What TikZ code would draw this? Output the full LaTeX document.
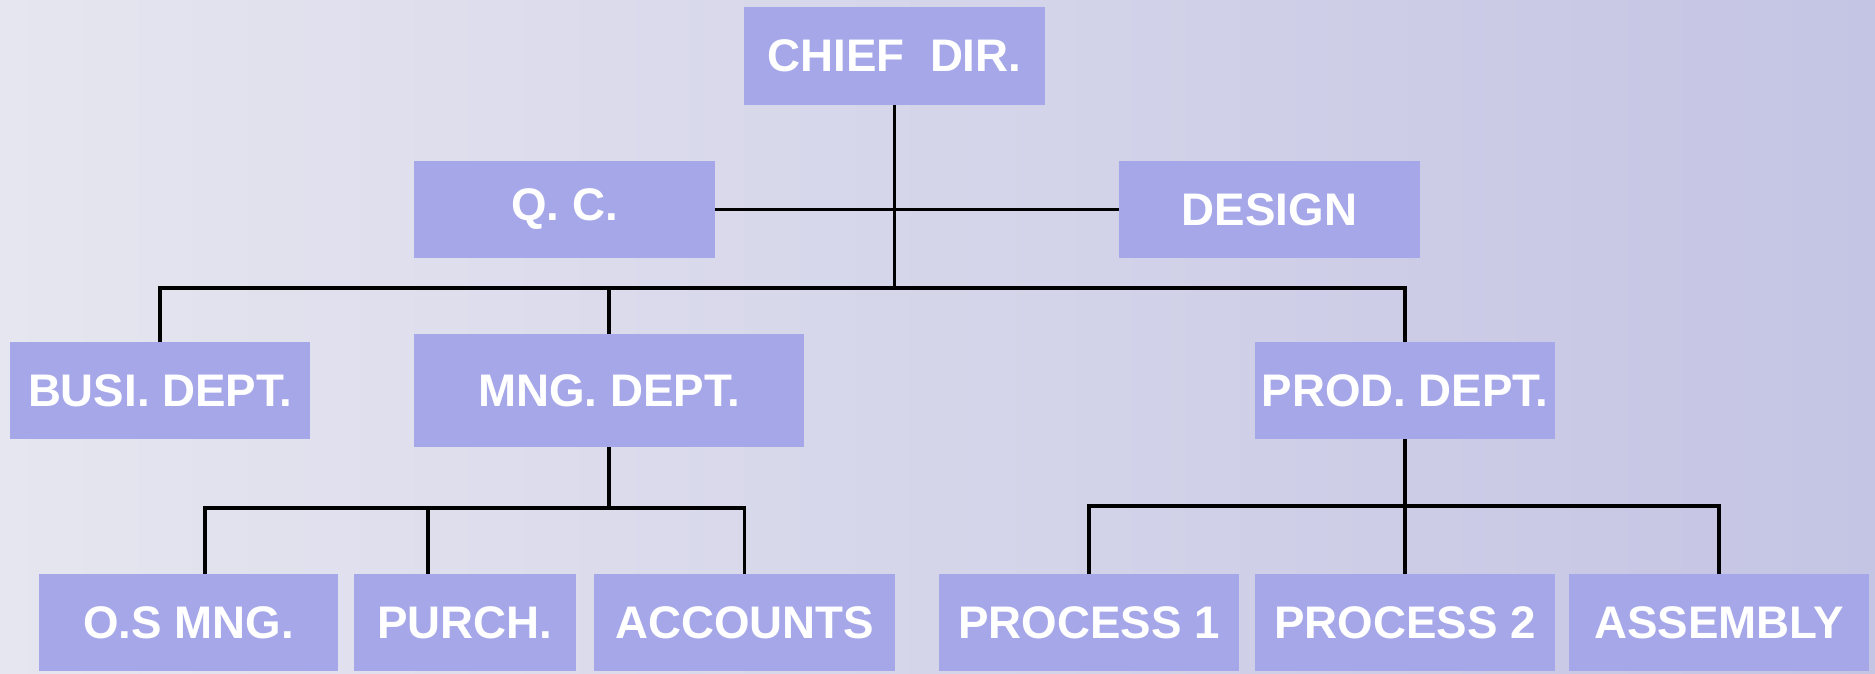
\documentclass[tikz,border=0pt]{standalone}
\usepackage{fontspec}
\setmainfont{Liberation Sans}
\usetikzlibrary{calc}
\definecolor{boxfill}{RGB}{165,167,232}
\definecolor{bgleft}{RGB}{230,230,240}
\definecolor{bgmid}{RGB}{206,206,230}
\definecolor{bgright}{RGB}{196,196,228}

\begin{document}
\begin{tikzpicture}
  [x=0.02cm,y=-0.02cm,
   every node/.style={rectangle,fill=boxfill,text=white,inner sep=0pt,
     minimum width=301*0.02cm,minimum height=97*0.02cm,
     font=\fontsize{26}{30}\selectfont\bfseries},
   link/.style={line width=2.1pt,black}]
  \useasboundingbox (0,0) rectangle (1875,673);
  \shade[left color=bgleft,middle color=bgmid,right color=bgright] (0,0) rectangle (1875,673);

  \node (chief) at (894.5,56)  [minimum height=98*0.02cm] {CHIEF\ \ DIR.};
  \node (qc)     at (564.5,209.5)  {Q. C.};
  \node (design) at (1269.5,209.5) {DESIGN};
  \node (busi)   at (160,390.5)    [minimum width=300*0.02cm] {BUSI. DEPT.};
  \node (mng)    at (609,390.5)    [minimum width=390*0.02cm,minimum height=113*0.02cm] {MNG. DEPT.};
  \node (prod)   at (1405,390.5)   [minimum width=300*0.02cm] {PROD. DEPT.};
  \node (osmng)  at (188.5,622.5)  [minimum width=299*0.02cm] {O.S MNG.};
  \node (purch)  at (465,622.5)    [minimum width=222*0.02cm] {PURCH.};
  \node (acc)    at (744.5,622.5)  {ACCOUNTS};
  \node (proc1)  at (1089,622.5)   [minimum width=300*0.02cm] {PROCESS 1};
  \node (proc2)  at (1405,622.5)   [minimum width=300*0.02cm] {PROCESS 2};
  \node (assy)   at (1719,622.5)   [minimum width=300*0.02cm] {ASSEMBLY};

  % bus points
  \coordinate (topbus)  at (894.5,288);
  \coordinate (mngbus)  at (609,508);
  \coordinate (prodbus) at (1405,506);
  \coordinate (osdrop)  at ($(osmng.north)+(16.5,0)$);
  \coordinate (pudrop)  at ($(purch.north)+(-37,0)$);

  \draw[link] (chief) -- (topbus);
  \draw[link] (qc) -- (design);
  \draw[link] (busi.north) |- (topbus) -| (prod.north);
  \draw[link] (mng.north) -- (mng.north |- topbus);

  \draw[link] (mng) -- (mngbus);
  \draw[link] (osdrop) |- (mngbus) -| (acc.north);
  \draw[link] (pudrop) -- (pudrop |- mngbus);

  \draw[link] (prod) -- (proc2);
  \draw[link] (proc1.north) |- (prodbus) -| (assy.north);

\end{tikzpicture}
\end{document}
